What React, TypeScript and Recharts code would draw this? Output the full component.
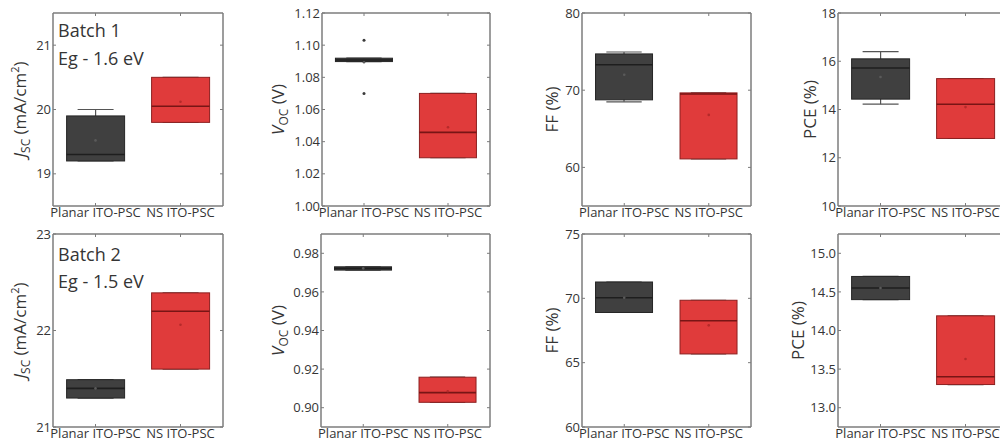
import React from 'react'
import { ComposedChart, Bar, Scatter, XAxis, YAxis } from 'recharts'

const groups = ['Planar ITO-PSC', 'NS ITO-PSC']

// box stats per device group: quartiles, median, mean, whisker ends
const jscBatch1 = [
  { group: groups[0], q1: 19.2, q3: 19.9, med: 19.3, mean: 19.52, lo: 19.2, hi: 20.0 },
  { group: groups[1], q1: 19.8, q3: 20.5, med: 20.05, mean: 20.12, lo: 19.8, hi: 20.5 }
]
const vocBatch1 = [
  { group: groups[0], q1: 1.0898, q3: 1.0919, med: 1.0908, mean: 1.0894, lo: 1.0898, hi: 1.0919, outHi: 1.103, outLo: 1.07 },
  { group: groups[1], q1: 1.03, q3: 1.07, med: 1.0458, mean: 1.049, lo: 1.03, hi: 1.07 }
]
const ffBatch1 = [
  { group: groups[0], q1: 68.75, q3: 74.7, med: 73.3, mean: 72.0, lo: 68.5, hi: 74.95 },
  { group: groups[1], q1: 61.1, q3: 69.65, med: 69.5, mean: 66.8, lo: 61.1, hi: 69.65 }
]
const pceBatch1 = [
  { group: groups[0], q1: 14.43, q3: 16.1, med: 15.72, mean: 15.35, lo: 14.22, hi: 16.4 },
  { group: groups[1], q1: 12.8, q3: 15.28, med: 14.22, mean: 14.1, lo: 12.8, hi: 15.28 }
]
const jscBatch2 = [
  { group: groups[0], q1: 21.3, q3: 21.49, med: 21.4, mean: 21.4, lo: 21.3, hi: 21.49 },
  { group: groups[1], q1: 21.6, q3: 22.39, med: 22.2, mean: 22.06, lo: 21.6, hi: 22.39 }
]
const vocBatch2 = [
  { group: groups[0], q1: 0.9713, q3: 0.973, med: 0.9722, mean: 0.9722, lo: 0.9713, hi: 0.973 },
  { group: groups[1], q1: 0.9028, q3: 0.9158, med: 0.9078, mean: 0.9085, lo: 0.9028, hi: 0.9158 }
]
const ffBatch2 = [
  { group: groups[0], q1: 68.9, q3: 71.27, med: 70.05, mean: 70.05, lo: 68.9, hi: 71.27 },
  { group: groups[1], q1: 65.68, q3: 69.85, med: 68.26, mean: 67.9, lo: 65.68, hi: 69.85 }
]
const pceBatch2 = [
  { group: groups[0], q1: 14.4, q3: 14.7, med: 14.55, mean: 14.55, lo: 14.4, hi: 14.7 },
  { group: groups[1], q1: 13.3, q3: 14.19, med: 13.4, mean: 13.63, lo: 13.3, hi: 14.19 }
]

const jscTicks1 = [19, 20, 21]
const vocTicks1 = [1.0, 1.02, 1.04, 1.06, 1.08, 1.1, 1.12]
const ffTicks1 = [60, 70, 80]
const pceTicks1 = [10, 12, 14, 16, 18]
const jscTicks2 = [21, 22, 23]
const vocTicks2 = [0.9, 0.92, 0.94, 0.96, 0.98]
const ffTicks2 = [60, 65, 70, 75]
const pceTicks2 = [13.0, 13.5, 14.0, 14.5, 15.0]

const palette = [
  { fill: '#404040', edge: '#262626', line: '#1e1e1e', dot: '#5a5a5a' },
  { fill: '#e03b3b', edge: '#8c2020', line: '#781515', dot: '#b52a2a' }
]
const frame = '#7c7c7c'
const ink = '#353535'
const font = "'Open Sans', sans-serif"

const norm = (p: any) => {
  let { y, height } = p
  if (height < 0) {
    y += height
    height = -height
  }
  return { y, height }
}

const BoxShape = (props: any) => {
  const { x, width, payload, index } = props
  const { y, height } = norm(props)
  const c = palette[index]
  const medY = y + (height * (payload.q3 - payload.med)) / (payload.q3 - payload.q1)
  return (
    <g>
      <rect x={x} y={y} width={width} height={height} fill={c.fill} stroke={c.edge} strokeWidth={1} />
      <line x1={x} x2={x + width} y1={medY} y2={medY} stroke={c.line} strokeWidth={1.6} />
    </g>
  )
}

const WhiskerShape = (props: any) => {
  const { x, width } = props
  const { y, height } = norm(props)
  const cx = x + width / 2
  const cap = width * 0.31
  return (
    <g stroke='#555' strokeWidth={1.2}>
      <line x1={cx} x2={cx} y1={y} y2={y + height} />
      <line x1={cx - cap} x2={cx + cap} y1={y} y2={y} />
      <line x1={cx - cap} x2={cx + cap} y1={y + height} y2={y + height} />
    </g>
  )
}

const ok = (p: any) => Number.isFinite(p.cx) && Number.isFinite(p.cy)

const MeanDot = (props: any) =>
  ok(props) ? <circle cx={props.cx} cy={props.cy} r={1.3} fill={palette[props.index]?.dot ?? '#555'} /> : <g />
const OutlierDot = (props: any) =>
  ok(props) ? <circle cx={props.cx} cy={props.cy} r={1.5} fill='#3a3a3a' /> : <g />

const Empty = () => <g />

type TitleKind = 'jsc' | 'voc' | 'ff' | 'pce'

const YTitle = ({ viewBox, kind, gap }: any) => {
  const cx = viewBox.x + viewBox.width - gap
  const cy = viewBox.y + viewBox.height / 2
  const fs = 17
  let body: React.ReactNode
  if (kind === 'jsc') {
    body = (
      <>
        <tspan fontStyle='italic'>J</tspan>
        <tspan fontSize={12} dy={4}>SC</tspan>
        <tspan dy={-4}> (mA/cm</tspan>
        <tspan fontSize={11} dy={-7}>2</tspan>
        <tspan dy={7}>)</tspan>
      </>
    )
  } else if (kind === 'voc') {
    body = (
      <>
        <tspan fontStyle='italic'>V</tspan>
        <tspan fontSize={12} dy={4}>OC</tspan>
        <tspan dy={-4}> (V)</tspan>
      </>
    )
  } else {
    body = kind === 'ff' ? 'FF (%)' : 'PCE (%)'
  }
  return (
    <text
      x={cx}
      y={cy}
      dy={6}
      transform={`rotate(-90 ${cx} ${cy})`}
      textAnchor='middle'
      fontSize={fs}
      fontFamily={font}
      fill={ink}
    >
      {body}
    </text>
  )
}

interface PanelProps {
  rows: any[]
  ticks: number[]
  domain: [number, number]
  digits: number
  plot: { x: number; y: number; w: number; h: number }
  kind: TitleKind
  gap: number
  outliers?: boolean
}

const L = 70
const R = 10
const T = 14
const B = 26

const BoxPanel = ({ rows, ticks, domain, digits, plot, kind, gap, outliers }: PanelProps) => {
  const fmt = (v: number) => v.toFixed(digits)
  const tickStyle = { fontSize: 13, fontFamily: font, fill: ink }
  const axisLine = { stroke: frame, strokeWidth: 1.5 }
  const tickLine = { stroke: frame, strokeWidth: 1 }
  return (
    <div style={{ position: 'absolute', left: plot.x - L, top: plot.y - T }}>
      <ComposedChart
        width={plot.w + L + R}
        height={plot.h + T + B}
        data={rows}
        margin={{ top: 0, right: 0, bottom: 0, left: 0 }}
        barCategoryGap='16%'
      >
        <XAxis
          xAxisId='b'
          dataKey='group'
          height={B}
          tick={tickStyle}
          tickSize={-3}
          tickMargin={5}
          axisLine={axisLine}
          tickLine={tickLine}
          interval={0}
        />
        <XAxis
          xAxisId='t'
          dataKey='group'
          orientation='top'
          height={T}
          tick={Empty}
          tickSize={-3}
          axisLine={axisLine}
          tickLine={tickLine}
          interval={0}
        />
        <YAxis
          yAxisId='l'
          width={L}
          type='number'
          domain={domain}
          ticks={ticks}
          interval={0}
          allowDataOverflow
          tickFormatter={fmt}
          tick={tickStyle}
          tickSize={-3}
          tickMargin={5}
          axisLine={axisLine}
          tickLine={tickLine}
          label={<YTitle kind={kind} gap={gap} />}
        />
        <YAxis
          yAxisId='r'
          orientation='right'
          width={R}
          type='number'
          domain={domain}
          ticks={ticks}
          interval={0}
          allowDataOverflow
          tick={Empty}
          tickSize={-3}
          axisLine={axisLine}
          tickLine={tickLine}
        />
        <Bar
          xAxisId='t'
          yAxisId='l'
          dataKey={(d: any) => [d.lo, d.hi]}
          shape={<WhiskerShape />}
          isAnimationActive={false}
        />
        <Bar
          xAxisId='b'
          yAxisId='l'
          dataKey={(d: any) => [d.q1, d.q3]}
          shape={<BoxShape />}
          isAnimationActive={false}
        />
        <Scatter xAxisId='b' yAxisId='l' dataKey='mean' shape={<MeanDot />} isAnimationActive={false} />
        {outliers ? (
          <Scatter xAxisId='b' yAxisId='l' dataKey='outHi' shape={<OutlierDot />} isAnimationActive={false} />
        ) : null}
        {outliers ? (
          <Scatter xAxisId='b' yAxisId='l' dataKey='outLo' shape={<OutlierDot />} isAnimationActive={false} />
        ) : null}
      </ComposedChart>
    </div>
  )
}

const App = () => {
  const top = { y: 13, h: 193 }
  const bot = { y: 234, h: 193 }
  return (
    <div
      style={{
        position: 'absolute',
        left: 0,
        top: 0,
        width: 1000,
        height: 444,
        overflow: 'hidden',
        background: '#fff'
      }}
    >
      <BoxPanel rows={jscBatch1} ticks={jscTicks1} domain={[18.5, 21.5]} digits={0}
        plot={{ x: 53, w: 170, ...top }} kind='jsc' gap={33} />
      <BoxPanel rows={vocBatch1} ticks={vocTicks1} domain={[1.0, 1.12]} digits={2}
        plot={{ x: 322, w: 168, ...top }} kind='voc' gap={44} outliers />
      <BoxPanel rows={ffBatch1} ticks={ffTicks1} domain={[55, 80]} digits={0}
        plot={{ x: 582, w: 169, ...top }} kind='ff' gap={30} />
      <BoxPanel rows={pceBatch1} ticks={pceTicks1} domain={[10, 18]} digits={0}
        plot={{ x: 838, w: 170, ...top }} kind='pce' gap={28} />

      <BoxPanel rows={jscBatch2} ticks={jscTicks2} domain={[21, 23]} digits={0}
        plot={{ x: 53, w: 170, ...bot }} kind='jsc' gap={33} />
      <BoxPanel rows={vocBatch2} ticks={vocTicks2} domain={[0.89, 0.99]} digits={2}
        plot={{ x: 321, w: 169, ...bot }} kind='voc' gap={43} />
      <BoxPanel rows={ffBatch2} ticks={ffTicks2} domain={[60, 75]} digits={0}
        plot={{ x: 582, w: 169, ...bot }} kind='ff' gap={30} />
      <BoxPanel rows={pceBatch2} ticks={pceTicks2} domain={[12.75, 15.25]} digits={1}
        plot={{ x: 838, w: 170, ...bot }} kind='pce' gap={40} />

      <svg width={1000} height={444} style={{ position: 'absolute', left: 0, top: 0, pointerEvents: 'none' }}>
        <g fontFamily={font} fontSize={18} fill={ink}>
          <text x={58} y={37}>Batch 1</text>
          <text x={58} y={65}>Eg - 1.6 eV</text>
          <text x={58} y={261}>Batch 2</text>
          <text x={58} y={288}>Eg - 1.5 eV</text>
        </g>
      </svg>
    </div>
  )
}

export default App
